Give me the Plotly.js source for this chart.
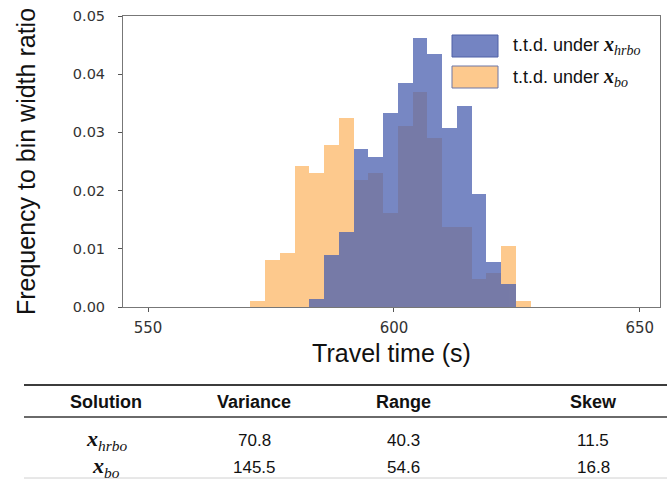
<!DOCTYPE html>
<html>
<head>
<meta charset="utf-8">
<script src="https://cdn.plot.ly/plotly-3.0.1.min.js"></script>
<style>html,body{margin:0;padding:0;background:#fff;}#chart{width:667px;height:480px;}</style>
</head>
<body>
<div id="chart"></div>
<script>
// Histogram bin centers (travel time, s) and bin width
const binCenters = [572.3, 575.3, 578.3, 581.3, 584.3, 587.3, 590.3, 593.3, 596.3, 599.3,
                    602.3, 605.3, 608.3, 611.3, 614.3, 617.3, 620.3, 623.3, 626.3];
const binWidth = 3.0;
// Frequency to bin width ratio, t.t.d. under x_bo
const boValues = [0.0010, 0.0081, 0.0092, 0.0243, 0.0231, 0.0278, 0.0324, 0.0218, 0.0231, 0.0162,
                  0.0311, 0.0370, 0.0290, 0.0138, 0.0138, 0.0048, 0.0059, 0.0105, 0.0010];
// Frequency to bin width ratio, t.t.d. under x_hrbo
const hrboValues = [0, 0, 0, 0, 0.0013, 0.0089, 0.0129, 0.0271, 0.0258, 0.0333,
                    0.0385, 0.0462, 0.0435, 0.0307, 0.0346, 0.0194, 0.0077, 0.0039, 0];
const xTicks = [550, 600, 650];
const yTicks = [0.00, 0.01, 0.02, 0.03, 0.04, 0.05];

// Table
const tableHeader = ["Solution", "Variance", "Range", "Skew"];
const tableSolutions = ["<b><i>x</i></b><sub><i>hrbo</i></sub>", "<b><i>x</i></b><sub><i>bo</i></sub>"];
const tableVariance = ["70.8", "145.5"];
const tableRange = ["40.3", "54.6"];
const tableSkew = ["11.5", "16.8"];

const seriesNames = ["t.t.d. under x_hrbo", "t.t.d. under x_bo"];

const orangeColor = "#fdc98d";
const blueColor = "#4a60b0";
const blueOpacity = 0.75;

const traces = [
  {type: "bar", x: binCenters, y: boValues, width: binWidth, name: seriesNames[1],
   marker: {color: orangeColor, line: {width: 0}}, showlegend: false, hoverinfo: "x+y"},
  {type: "bar", x: binCenters, y: hrboValues, width: binWidth, name: seriesNames[0],
   marker: {color: blueColor, line: {width: 0}}, opacity: blueOpacity, showlegend: false, hoverinfo: "x+y"}
];

// plot-area pixel geometry helpers (paper coordinates)
const L = 123, T = 16, W = 537, H = 291;
const px = v => (v - L) / W;
const py = v => (T + H - v) / H;

const mathFont = "Liberation Serif";
const mathSpan = (s) => '<span style="font-family:' + mathFont + ';font-size:20px">' + s + '</span>';

const shapes = [
  // legend patches
  {type: "rect", xref: "paper", yref: "paper", x0: px(452), x1: px(498), y0: py(57), y1: py(35),
   fillcolor: "#7484c2", line: {color: "#4f60a6", width: 1}},
  {type: "rect", xref: "paper", yref: "paper", x0: px(452), x1: px(498), y0: py(88), y1: py(66),
   fillcolor: orangeColor, line: {color: "#6d77a6", width: 1}},
  // table rules
  {type: "line", xref: "paper", yref: "paper", x0: px(24), x1: px(667), y0: py(385), y1: py(385),
   line: {color: "#3c3c3c", width: 2}},
  {type: "line", xref: "paper", yref: "paper", x0: px(24), x1: px(667), y0: py(417), y1: py(417),
   line: {color: "#6a6a6a", width: 2}},
  {type: "line", xref: "paper", yref: "paper", x0: px(24), x1: px(667), y0: py(478), y1: py(478),
   line: {color: "#d0d0d0", width: 1}}
];

const annotations = [
  {xref: "paper", yref: "paper", x: px(511), y: py(46), xanchor: "left", yanchor: "middle", showarrow: false,
   text: "t.t.d. under " + mathSpan(tableSolutions[0]), font: {family: "Liberation Sans, Arial", size: 18, color: "#111"}},
  {xref: "paper", yref: "paper", x: px(511), y: py(77), xanchor: "left", yanchor: "middle", showarrow: false,
   text: "t.t.d. under " + mathSpan(tableSolutions[1]), font: {family: "Liberation Sans, Arial", size: 18, color: "#111"}}
];

const colX = [106, 254, 403, 593];
const rowY = [440, 467];
tableHeader.forEach((h, i) => {
  annotations.push({xref: "paper", yref: "paper", x: px(colX[i]), y: py(402), xanchor: "center", yanchor: "middle",
    showarrow: false, text: "<b>" + h + "</b>", font: {family: "Liberation Sans, Arial", size: 18, color: "#111"}});
});
for (let r = 0; r < tableSolutions.length; r++) {
  const cells = [tableSolutions[r], tableVariance[r], tableRange[r], tableSkew[r]];
  cells.forEach((c, i) => {
    annotations.push({xref: "paper", yref: "paper", x: px(colX[i]), y: py(rowY[r]), xanchor: "center", yanchor: "middle",
      showarrow: false, text: c,
      font: {family: i === 0 ? mathFont : "Liberation Sans, Arial", size: i === 0 ? 22 : 17, color: "#111"}});
  });
}

const layout = {
  width: 667, height: 480,
  margin: {l: L, r: 667 - L - W, t: T, b: 480 - T - H, pad: 0},
  paper_bgcolor: "#ffffff", plot_bgcolor: "#ffffff",
  barmode: "overlay", bargap: 0,
  showlegend: false,
  xaxis: {
    range: [544.9, 654.1], tickvals: xTicks, ticktext: xTicks.map(String),
    ticks: "outside", ticklen: 4, tickcolor: "#555", tickwidth: 1,
    showline: true, mirror: true, linecolor: "#777", linewidth: 1,
    showgrid: false, zeroline: false, ticklabelstandoff: 3,
    tickfont: {family: "DejaVu Sans", size: 15, color: "#333"},
    title: {text: "Travel time (s)", font: {family: "Liberation Sans, Arial", size: 25, color: "#111"}, standoff: 8}
  },
  yaxis: {
    range: [0, 0.05], tickvals: yTicks, ticktext: yTicks.map(v => v.toFixed(2)),
    ticks: "outside", ticklen: 4, tickcolor: "#555", tickwidth: 1,
    showline: true, mirror: true, linecolor: "#777", linewidth: 1,
    showgrid: false, zeroline: false, ticklabelstandoff: 10,
    tickfont: {family: "DejaVu Sans", size: 14.5, color: "#333"},
    title: {text: "Frequency to bin width ratio", font: {family: "Liberation Sans, Arial", size: 25, color: "#111"}, standoff: 30}
  },
  shapes: shapes,
  annotations: annotations
};

Plotly.newPlot("chart", traces, layout, {displayModeBar: false, staticPlot: true});
</script>
</body>
</html>
